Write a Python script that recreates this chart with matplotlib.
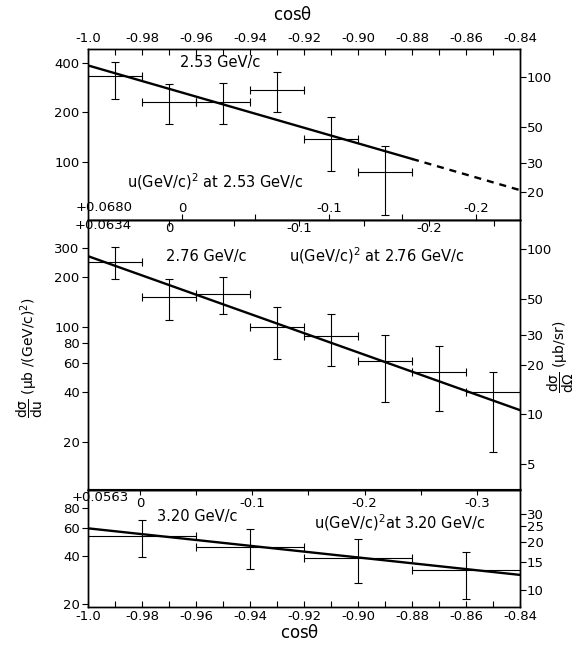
import numpy as np
import matplotlib
matplotlib.use('Agg')
import matplotlib.pyplot as plt
from matplotlib.ticker import NullLocator, MultipleLocator, FixedLocator, FuncFormatter

plt.rcParams['font.family'] = 'DejaVu Sans'
plt.rcParams['axes.unicode_minus'] = False
plt.rcParams['mathtext.default'] = 'regular'

# dsigma/du (ub/(GeV/c)^2) against cos(theta), one set per beam momentum
cos_253 = [-0.99, -0.97, -0.95, -0.93, -0.91, -0.89]
val_253 = [332, 233, 233, 275, 138, 86]
hi_253 = [405, 300, 301, 352, 189, 124]
lo_253 = [241, 170, 170, 200, 88, 47]

cos_276 = [-0.99, -0.97, -0.95, -0.93, -0.91, -0.89, -0.87, -0.85]
val_276 = [248, 152, 159, 99, 88, 62, 53, 40]
hi_276 = [305, 194, 201, 132, 119, 89, 76, 53]
lo_276 = [195, 110, 119, 64, 58, 35, 31, 17.5]

cos_320 = [-0.98, -0.94, -0.90, -0.86]
val_320 = [53.4, 45.8, 38.7, 32.7]
hi_320 = [67, 59, 51, 42.6]
lo_320 = [39.5, 33.4, 27, 21.6]

# exponential fits (straight on the log scale)
fit_cos_253 = [-1.0, -0.88, -0.84]   # dashed past -0.88
fit_253 = [388, 104, 67]
fit_cos = [-1.0, -0.84]
fit_276 = [268, 31.2]
fit_320 = [59.7, 30.5]

# dsigma/du divided by dsigma/dOmega for each momentum
ratio = {'2.53': 3.28, '2.76': 2.95, '3.20': 2.46}

# u scale: cos(theta) where u = 0 and du/dcos(theta)
u_zero = {'2.53': -0.9652, '2.76': -0.9699, '3.20': -0.9807}
u_slope = {'2.53': 1.837, '2.76': 2.079, '3.20': 2.406}
u_edge = {'2.53': '+0.0680', '2.76': '+0.0634', '3.20': '+0.0563'}
u_major = {'2.53': [0, -0.1, -0.2], '2.76': [0, -0.1, -0.2],
           '3.20': [0, -0.1, -0.2, -0.3]}
u_minor = {'2.53': [-0.05, -0.15], '2.76': [-0.05, -0.15, -0.25],
           '3.20': [-0.05, -0.15, -0.25]}

left_ticks = {'2.53': [100, 200, 400],
              '2.76': [20, 40, 60, 80, 100, 200, 300],
              '3.20': [20, 40, 60, 80]}
right_ticks = {'2.53': [20, 30, 50, 100],
               '2.76': [5, 10, 20, 30, 50, 100],
               '3.20': [10, 15, 20, 25, 30]}
ylims = {'2.53': (44.0, 489), '2.76': (10.3, 444), '3.20': (19.2, 104.5)}

W, H = 578, 647
fig = plt.figure(figsize=(W / 100, H / 100), dpi=100)

def rect(top, bottom):
    return [88 / W, 1 - bottom / H, 432 / W, (bottom - top) / H]

ax1 = fig.add_axes(rect(49, 220))
ax2 = fig.add_axes(rect(220, 489.5))
ax3 = fig.add_axes(rect(489.5, 607))

TS = 9.5
cosfmt = FuncFormatter(lambda v, p: '-1.0' if abs(v + 1) < 1e-9 else '%.2f' % v)
ufmt = FuncFormatter(lambda v, p: '0' if abs(v) < 1e-9 else '%.1f' % v)


def setup(ax, key, cos, val, lo, hi, half):
    ax.set_yscale('log')
    ax.set_xlim(-1.0, -0.84)
    ax.set_ylim(*ylims[key])
    val = np.array(val, float)
    yerr = [val - np.array(lo), np.array(hi) - val]
    ax.errorbar(cos, val, yerr=yerr, xerr=half, fmt='none', ecolor='black',
                elinewidth=0.8, capsize=3, capthick=0.8)
    ax.set_yticks(left_ticks[key])
    ax.set_yticklabels([str(t) for t in left_ticks[key]])
    ax.yaxis.set_minor_locator(NullLocator())
    ax.tick_params(axis='y', direction='out', length=4, width=0.8, pad=2, labelsize=TS)
    for s in ax.spines.values():
        s.set_linewidth(1.0)

    r = ax.twinx()
    r.set_yscale('log')
    lo_l, hi_l = ylims[key]
    r.set_ylim(lo_l / ratio[key], hi_l / ratio[key])
    r.set_yticks(right_ticks[key])
    r.set_yticklabels([str(t) for t in right_ticks[key]])
    r.yaxis.set_minor_locator(NullLocator())
    r.tick_params(axis='y', direction='out', length=4, width=0.8, pad=1, labelsize=TS)
    for s in r.spines.values():
        s.set_linewidth(1.0)
    return r


setup(ax1, '2.53', cos_253, val_253, lo_253, hi_253, 0.01)
setup(ax2, '2.76', cos_276, val_276, lo_276, hi_276, 0.01)
setup(ax3, '3.20', cos_320, val_320, lo_320, hi_320, 0.02)

ax1.plot(fit_cos_253[:2], fit_253[:2], color='black', lw=1.7)
ax1.plot(fit_cos_253[1:], fit_253[1:], color='black', lw=1.7, ls=(0, (3, 2.5)))
ax2.plot(fit_cos, fit_276, color='black', lw=1.7)
ax3.plot(fit_cos, fit_320, color='black', lw=1.7)

# cos(theta) scale on top of the upper panel and below the lower one
ax1.xaxis.tick_top()
ax1.xaxis.set_major_locator(MultipleLocator(0.02))
ax1.xaxis.set_minor_locator(MultipleLocator(0.01))
ax1.xaxis.set_major_formatter(cosfmt)
ax1.tick_params(axis='x', which='both', direction='in', length=4, width=0.8,
                pad=3, labelsize=TS)
ax2.tick_params(axis='x', which='both', bottom=False, top=False,
                labelbottom=False, labeltop=False)
ax3.xaxis.set_major_locator(MultipleLocator(0.02))
ax3.xaxis.set_minor_locator(MultipleLocator(0.01))
ax3.xaxis.set_major_formatter(cosfmt)
ax3.tick_params(axis='x', which='both', direction='in', length=4, width=0.8,
                pad=2.5, labelsize=TS)

# u scales drawn on the panel boundaries, labels inside each panel
for ax, key, loc, pad in [(ax1, '2.53', 'bottom', -13.2),
                          (ax2, '2.76', 'top', -10.5),
                          (ax3, '3.20', 'top', -14.5)]:
    c0, k = u_zero[key], u_slope[key]
    sec = ax.secondary_xaxis(loc, functions=(lambda c, c0=c0, k=k: -k * (c - c0),
                                             lambda u, c0=c0, k=k: c0 - u / k))
    sec.xaxis.set_major_locator(FixedLocator(u_major[key]))
    sec.xaxis.set_minor_locator(FixedLocator(u_minor[key]))
    sec.xaxis.set_major_formatter(ufmt)
    sec.tick_params(which='both', direction='in', length=4, width=0.8, pad=pad,
                    labelsize=TS)

ax1.text(0.037, 0.076, u_edge['2.53'], transform=ax1.transAxes, ha='center',
         va='center', fontsize=TS)
ax2.text(0.035, 0.978, u_edge['2.76'], transform=ax2.transAxes, ha='center',
         va='center', fontsize=TS)
ax3.text(0.028, 0.928, u_edge['3.20'], transform=ax3.transAxes, ha='center',
         va='center', fontsize=TS)

AS = 10.5
ax1.text(0.306, 0.92, '2.53 GeV/c', transform=ax1.transAxes, ha='center', va='center', fontsize=AS)
ax1.text(0.294, 0.224, 'u(GeV/c)$^2$ at 2.53 GeV/c', transform=ax1.transAxes,
         ha='center', va='center', fontsize=AS)
ax2.text(0.275, 0.866, '2.76 GeV/c', transform=ax2.transAxes, ha='center', va='center', fontsize=AS)
ax2.text(0.669, 0.866, 'u(GeV/c)$^2$ at 2.76 GeV/c', transform=ax2.transAxes,
         ha='center', va='center', fontsize=AS)
ax3.text(0.252, 0.766, '3.20 GeV/c', transform=ax3.transAxes, ha='center', va='center', fontsize=AS)
ax3.text(0.722, 0.715, 'u(GeV/c)$^2$at 3.20 GeV/c', transform=ax3.transAxes,
         ha='center', va='center', fontsize=AS)

fig.text(293 / W, 1 - 15 / H, r'cos$\theta$', ha='center', va='center', fontsize=12)
fig.text(300 / W, 1 - 633 / H, r'cos$\theta$', ha='center', va='center', fontsize=12)
fig.text(30 / W, 1 - 358 / H, r'$\dfrac{d\sigma}{du}$ ($\mu$b /(GeV/c)$^2$)',
         rotation=90, ha='center', va='center', fontsize=10)
fig.text(561 / W, 1 - 357 / H, r'$\dfrac{d\sigma}{d\Omega}$ ($\mu$b/sr)',
         rotation=90, ha='center', va='center', fontsize=10)

fig.savefig('out.png', dpi=100)
